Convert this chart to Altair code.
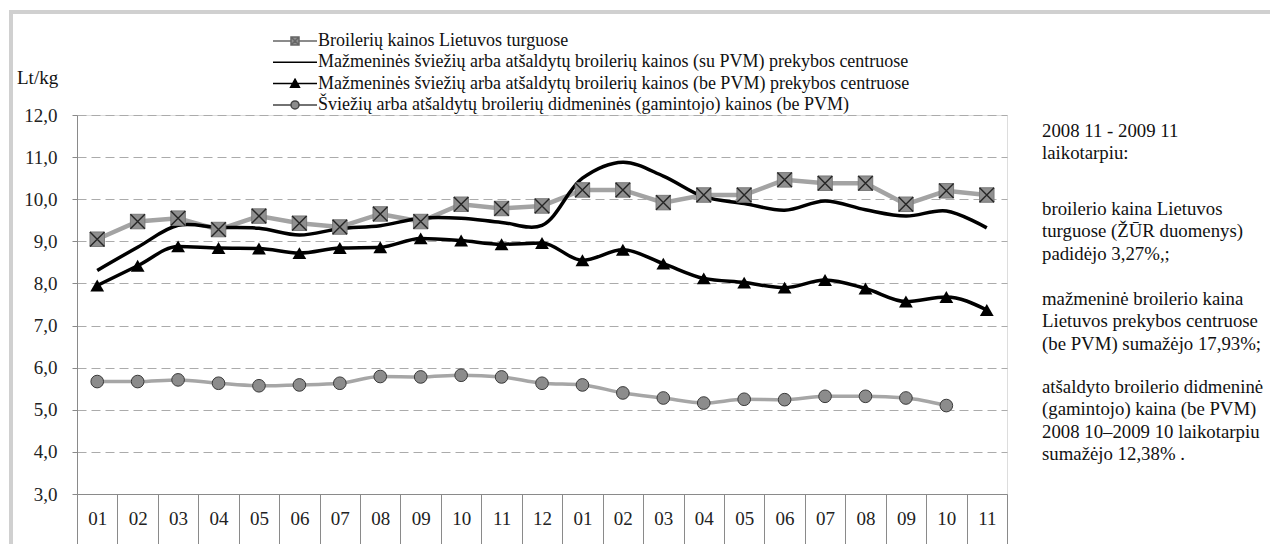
import altair as alt
import pandas as pd

# ---- data ----
years = ["2008"] * 12 + ["2009"] * 11
months = ["01", "02", "03", "04", "05", "06", "07", "08", "09", "10", "11", "12",
          "01", "02", "03", "04", "05", "06", "07", "08", "09", "10", "11"]

turgus = [9.05, 9.47, 9.55, 9.28, 9.60, 9.43, 9.34, 9.65, 9.47, 9.88, 9.78, 9.84,
          10.22, 10.22, 9.92, 10.10, 10.10, 10.46, 10.38, 10.38, 9.88, 10.20, 10.10]
su_pvm = [8.31, 8.86, 9.38, 9.33, 9.31, 9.15, 9.30, 9.37, 9.55, 9.55, 9.45, 9.38,
          10.50, 10.88, 10.55, 10.06, 9.90, 9.74, 9.96, 9.75, 9.60, 9.72, 9.32]
be_pvm = [7.95, 8.42, 8.88, 8.84, 8.83, 8.72, 8.84, 8.86, 9.07, 9.02, 8.93, 8.96,
          8.55, 8.80, 8.47, 8.12, 8.02, 7.90, 8.08, 7.88, 7.57, 7.68, 7.37]
didmenine = [5.67, 5.67, 5.71, 5.63, 5.57, 5.59, 5.63, 5.79, 5.78, 5.82, 5.78, 5.63,
             5.59, 5.40, 5.28, 5.16, 5.25, 5.24, 5.32, 5.32, 5.28, 5.10, None]

series_names = [
    "Broilerių kainos Lietuvos turguose",
    "Mažmeninės šviežių arba atšaldytų broilerių kainos (su PVM) prekybos centruose",
    "Mažmeninės šviežių arba atšaldytų broilerių kainos (be PVM) prekybos centruose",
    "Šviežių arba atšaldytų  broilerių didmeninės (gamintojo) kainos (be PVM)",
]
y_ticks = [3, 4, 5, 6, 7, 8, 9, 10, 11, 12]
y_unit = "Lt/kg"

para1 = ["2008 11 - 2009 11", "laikotarpiu:"]
para2 = ["broilerio kaina Lietuvos", "turguose  (ŽŪR duomenys)", "padidėjo 3,27%,;"]
para3 = ["mažmeninė broilerio  kaina", "Lietuvos prekybos  centruose", "(be PVM) sumažėjo  17,93%;"]
para4 = ["atšaldyto broilerio  didmeninė", "(gamintojo) kaina (be PVM)",
         "2008 10–2009 10 laikotarpiu", "sumažėjo 12,38% ."]

# ---- build tables ----
keys = [f"{y}-{m}" for y, m in zip(years, months)]


def table(vals):
    return pd.DataFrame({"key": keys, "v": vals}).dropna()


FONT = "Liberation Serif"
GRAY_AX = "#8a8a8a"

x_enc = alt.X(
    "key:N",
    scale=alt.Scale(type="band", domain=keys, paddingInner=0, paddingOuter=0),
    bandPosition=0.5,
    axis=alt.Axis(
        title=None,
        labelExpr="split(datum.value, '-')[1]",
        tickBand="extent",
        tickSize=50,
        tickColor=GRAY_AX,
        domainColor=GRAY_AX,
        labelPadding=-26,
        labelBaseline="middle",
        labelAngle=0,
        labelFontSize=19,
        labelFont=FONT,
        labelColor="#222222",
        grid=False,
    ),
)
y_enc = alt.Y(
    "v:Q",
    scale=alt.Scale(domain=[3, 12], nice=False, zero=False),
    axis=alt.Axis(
        title=None,
        values=y_ticks,
        labelExpr="replace(format(datum.value, '.1f'), '.', ',')",
        tickSize=5,
        tickColor=GRAY_AX,
        domainColor=GRAY_AX,
        labelPadding=15,
        labelFontSize=19,
        labelFont=FONT,
        labelColor="#222222",
        grid=True,
        gridDash=[9, 5],
        gridColor="#ababab",
        gridWidth=1,
    ),
)

X_PATH = "M-1,-1L1,1M1,-1L-1,1"

# series A: market prices (gray line, gray square with X)
a_df = table(turgus)
a_line = alt.Chart(a_df).mark_line(color="#a3a3a3", strokeWidth=4.5).encode(x=x_enc, y=y_enc)
a_box = alt.Chart(a_df).mark_point(shape="square", filled=True, fill="#8f8f8f", stroke="#7a7a7a",
                                   strokeWidth=1, size=210, opacity=1).encode(x=x_enc, y=y_enc)
a_x = alt.Chart(a_df).mark_point(shape=X_PATH, filled=False, stroke="#262626", strokeWidth=1.4,
                                 size=210, opacity=1).encode(x=x_enc, y=y_enc)

# series B: retail with VAT (smooth black line)
b_line = alt.Chart(table(su_pvm)).mark_line(color="black", strokeWidth=3.5,
                                             interpolate="catmull-rom").encode(x=x_enc, y=y_enc)

# series C: retail without VAT (black line with triangles)
c_df = table(be_pvm)
c_line = alt.Chart(c_df).mark_line(color="black", strokeWidth=3.5,
                                   interpolate="monotone").encode(x=x_enc, y=y_enc)
c_pts = alt.Chart(c_df).mark_point(shape="triangle-up", filled=True, fill="black",
                                   size=190, opacity=1).encode(x=x_enc, y=y_enc)

# series D: wholesale (gray line, gray circles)
d_df = table(didmenine)
d_line = alt.Chart(d_df).mark_line(color="#a6a6a6", strokeWidth=3.5,
                                   interpolate="monotone").encode(x=x_enc, y=y_enc)
d_pts = alt.Chart(d_df).mark_point(shape="circle", filled=True, fill="#8c8c8c", stroke="#3a3a3a",
                                   strokeWidth=1, size=160, opacity=1).encode(x=x_enc, y=y_enc)

# legend driven by explicit scale domains
leg_shapes = [
    "M-5.5,0H-1M1,0H5.5M-1,-1H1V1H-1Z M-1,-1L1,1M1,-1L-1,1",
    "M-5.5,0H5.5",
    "M-5.5,0H5.5M0,-1.1L1.1,0.9H-1.1Z",
    "M-5.5,0H-1M1,0H5.5M1,0A1,1 0 1,1 -1,0A1,1 0 1,1 1,0Z",
]
leg_fill = ["#8f8f8f", "black", "black", "#8c8c8c"]
leg_stroke = ["#666666", "black", "black", "#444444"]
legend = alt.Legend(
    orient="none", legendX=209, legendY=-83, title=None,
    labelFontSize=18, labelFont=FONT, labelColor="#111111",
    symbolSize=64, symbolStrokeWidth=1.5, labelOffset=14,
    rowPadding=3.3, labelLimit=900, padding=0, symbolOpacity=1,
)
leg_df = pd.DataFrame({"series": series_names})
legend_layer = alt.Chart(leg_df).mark_point(opacity=1).encode(
    shape=alt.Shape("series:N", scale=alt.Scale(domain=series_names, range=leg_shapes), legend=legend),
    fill=alt.Fill("series:N", scale=alt.Scale(domain=series_names, range=leg_fill), legend=legend),
    stroke=alt.Stroke("series:N", scale=alt.Scale(domain=series_names, range=leg_stroke), legend=legend),
).transform_filter("false")

# annotations
one = pd.DataFrame({"k": [0]})


def para(lines, yv):
    return alt.Chart(pd.DataFrame({"t": ["\n".join(lines)]})).mark_text(
        align="left", baseline="alphabetic", fontSize=18.8, font=FONT, lineHeight=22.3,
        lineBreak="\n", color="#111111",
    ).encode(x=alt.value(965), y=alt.value(yv), text="t:N")


unit = alt.Chart(pd.DataFrame({"t": [y_unit]})).mark_text(
    align="left", baseline="alphabetic", fontSize=19, font=FONT, color="#111111"
).encode(x=alt.value(-60), y=alt.value(-31), text="t:N")

frame_left = alt.Chart(one).mark_rule(color="#d0d0d0", strokeWidth=4).encode(
    x=alt.value(-66), y=alt.value(-103), y2=alt.value(440))
frame_top = alt.Chart(one).mark_rule(color="#d0d0d0", strokeWidth=4).encode(
    x=alt.value(-68), x2=alt.value(1205), y=alt.value(-103))

chart = alt.layer(
    frame_left, frame_top,
    a_line, b_line, c_line, d_line,
    a_box, a_x, c_pts, d_pts,
    legend_layer,
    para(para1, 22), para(para2, 100), para(para3, 190), para(para4, 278),
    unit,
).properties(
    width=930, height=379,
    autosize=alt.AutoSizeParams(type="none"),
    padding={"left": 69, "top": 107, "right": 263, "bottom": 50},
    background="white",
).configure_view(stroke=None).configure(font=FONT)

chart.save("out.html", embed_options={"renderer": "svg", "actions": False})
